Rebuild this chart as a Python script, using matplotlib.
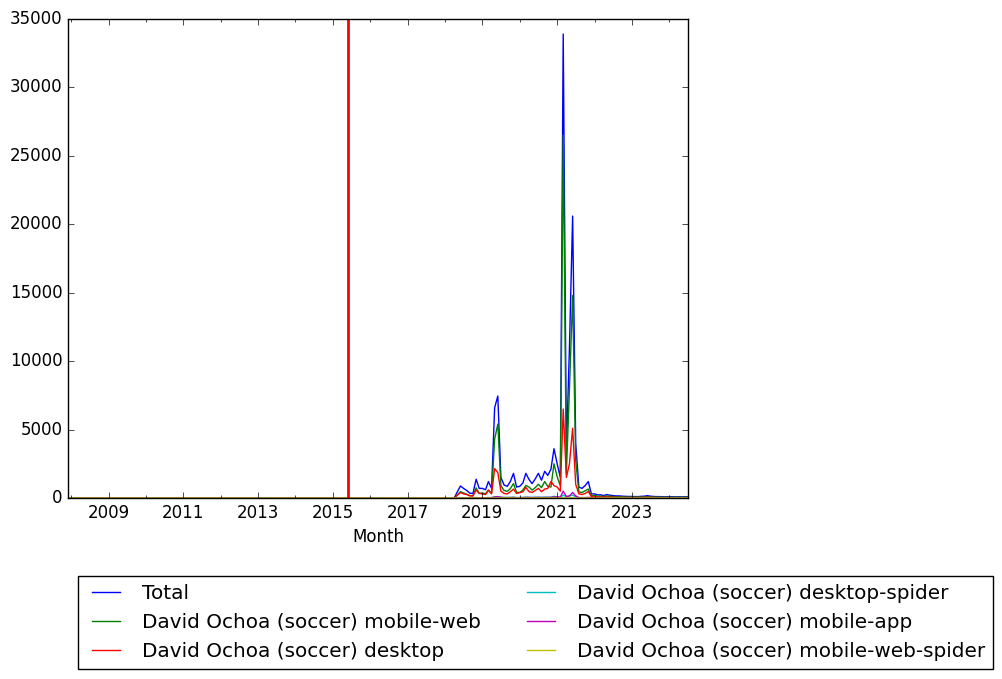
import datetime as dt
import matplotlib
matplotlib.use("Agg")
import matplotlib.pyplot as plt
import matplotlib.dates as mdates
import pandas as pd

plt.style.use("classic")

# monthly page views, Dec 2007 .. Jul 2024 (all zero before 2018)
zeros = [0] * 121  # 2007-12 .. 2017-12

total = zeros + [
    0, 0, 0, 0, 450, 880, 700, 550, 350, 330, 1370, 700,
    700, 600, 1200, 700, 6600, 7450, 1500, 950, 850, 1200, 1800, 800,
    850, 1100, 1800, 1350, 1050, 1400, 1800, 1300, 1950, 1650, 2100, 3600,
    2500, 1500, 33900, 3500, 11000, 20600, 4000, 800, 700, 900, 1200, 300,
    300, 220, 230, 180, 250, 200, 170, 150, 150, 130, 120, 110,
    110, 100, 100, 120, 130, 170, 130, 110, 100, 100, 90, 90,
    100, 90, 80, 90, 80, 90, 80,
]
mobile_web = zeros + [
    0, 0, 0, 0, 230, 460, 370, 280, 180, 160, 740, 340,
    360, 310, 570, 350, 4300, 5400, 900, 550, 480, 680, 1050, 420,
    400, 580, 920, 800, 580, 760, 1000, 760, 1200, 850, 800, 2500,
    1550, 880, 26500, 1800, 8000, 14800, 2750, 440, 400, 520, 650, 170,
    180, 130, 140, 110, 150, 120, 100, 90, 90, 78, 72, 65,
    66, 60, 60, 72, 78, 100, 78, 65, 60, 60, 54, 54,
    60, 54, 48, 54, 48, 54, 48,
]
desktop = zeros + [
    0, 0, 0, 0, 200, 390, 300, 250, 150, 150, 580, 330,
    300, 250, 580, 300, 2150, 1850, 500, 330, 300, 450, 650, 330,
    390, 450, 780, 460, 400, 550, 700, 460, 650, 700, 1200, 900,
    800, 500, 6500, 1500, 2500, 5100, 1000, 300, 250, 330, 480, 90,
    90, 70, 70, 55, 75, 60, 50, 45, 45, 40, 35, 35,
    30, 30, 30, 35, 40, 50, 40, 35, 30, 30, 28, 28,
    30, 28, 25, 28, 25, 28, 25,
]
desktop_spider = zeros + [
    0, 0, 0, 0, 10, 20, 20, 10, 10, 10, 30, 20,
    20, 20, 30, 30, 80, 100, 50, 40, 40, 40, 60, 30,
    30, 40, 60, 50, 40, 50, 60, 50, 60, 60, 60, 120,
    80, 60, 200, 100, 150, 200, 100, 30, 20, 20, 30, 20,
    15, 10, 10, 8, 12, 10, 10, 8, 8, 6, 6, 5,
    5, 5, 5, 6, 6, 10, 6, 5, 5, 5, 4, 4,
    5, 4, 4, 4, 4, 4, 4,
]
mobile_app = zeros + [
    0, 0, 0, 0, 10, 10, 10, 10, 10, 10, 20, 10,
    20, 20, 20, 20, 70, 100, 50, 30, 30, 30, 40, 20,
    30, 30, 40, 40, 30, 40, 40, 30, 40, 40, 40, 80,
    70, 60, 500, 100, 150, 400, 150, 30, 30, 30, 40, 20,
    15, 10, 10, 7, 13, 10, 10, 7, 7, 6, 7, 5,
    9, 5, 5, 7, 6, 10, 6, 5, 5, 5, 4, 4,
    5, 4, 3, 4, 3, 4, 3,
]
mobile_web_spider = zeros + [
    0, 0, 0, 0, 0, 1, 1, 0, 0, 0, 2, 1,
    1, 1, 2, 1, 5, 6, 2, 1, 1, 2, 3, 1,
    1, 2, 3, 2, 2, 2, 3, 2, 3, 3, 3, 5,
    4, 3, 10, 6, 6, 8, 4, 1, 1, 1, 2, 1,
    1, 1, 1, 0, 1, 1, 0, 0, 0, 0, 0, 0,
    0, 0, 0, 0, 0, 1, 0, 0, 0, 0, 0, 0,
    0, 0, 0, 0, 0, 0, 0,
]

months = pd.date_range("2007-12-01", periods=len(total), freq="MS")
marker_month = dt.datetime(2015, 6, 1)

series = [
    ("Total", total),
    ("David Ochoa (soccer) mobile-web", mobile_web),
    ("David Ochoa (soccer) desktop", desktop),
    ("David Ochoa (soccer) desktop-spider", desktop_spider),
    ("David Ochoa (soccer) mobile-app", mobile_app),
    ("David Ochoa (soccer) mobile-web-spider", mobile_web_spider),
]

fig = plt.figure(figsize=(10.03, 6.79), dpi=100)
ax = fig.add_axes([0.0678, 0.2666, 0.618, 0.7054])

for name, vals in series:
    ax.plot(months, vals, label=name)

ax.axvline(marker_month, color="red", linewidth=2)

ax.set_xlim(months[0], months[-1])
ax.set_ylim(0, 35000)
ax.set_xlabel("Month")

odd_years = [dt.datetime(y, 1, 1) for y in range(2009, 2025, 2)]
ax.xaxis.set_major_locator(matplotlib.ticker.FixedLocator(mdates.date2num(odd_years)))
ax.xaxis.set_major_formatter(mdates.DateFormatter("%Y"))
ax.xaxis.set_minor_locator(mdates.YearLocator(1))

fig.legend(loc="upper left", bbox_to_anchor=(78 / 1003, 1 - 576 / 679),
           ncol=2, borderaxespad=0)

fig.savefig("out.png", dpi=100)
